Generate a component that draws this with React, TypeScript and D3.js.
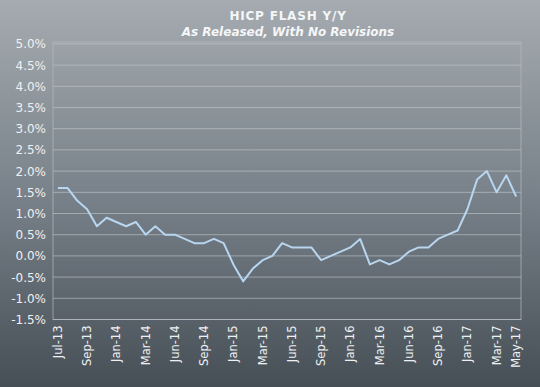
import React from "react";
import * as d3 from "d3";

const values: number[] = [
  1.6, 1.6, 1.3, 1.1, 0.7, 0.9, 0.8, 0.7, 0.8, 0.5, 0.7, 0.5, 0.5, 0.4, 0.3, 0.3,
  0.4, 0.3, -0.2, -0.6, -0.3, -0.1, 0.0, 0.3, 0.2, 0.2, 0.2, -0.1, 0.0, 0.1, 0.2, 0.4,
  -0.2, -0.1, -0.2, -0.1, 0.1, 0.2, 0.2, 0.4, 0.5, 0.6, 1.1, 1.8, 2.0, 1.5, 1.9, 1.4,
];
const tickIndex: number[] = [0, 3, 6, 9, 12, 15, 18, 21, 24, 27, 30, 33, 36, 39, 42, 45, 47];
const tickLabels: string[] = [
  "Jul-13", "Sep-13", "Jan-14", "Mar-14", "Jun-14", "Sep-14", "Jan-15", "Mar-15",
  "Jun-15", "Sep-15", "Jan-16", "Mar-16", "Jun-16", "Sep-16", "Jan-17", "Mar-17", "May-17",
];
const yTicks: number[] = [-1.5, -1, -0.5, 0, 0.5, 1, 1.5, 2, 2.5, 3, 3.5, 4, 4.5, 5];
const title = "HICP FLASH Y/Y";
const subtitle = "As Released, With No Revisions";

const W = 540;
const H = 387;
const plot = { left: 53, right: 521, top: 42, bottom: 319.5 };

export default function App() {
  const x = d3
    .scaleBand<number>()
    .domain(values.map((_, i) => i))
    .range([plot.left, plot.right])
    .padding(0);
  const y = d3.scaleLinear().domain([-1.5, 5]).range([plot.bottom, 43.9]);
  const cx = (i: number) => (x(i) as number) + x.bandwidth() / 2;
  const line = d3
    .line<number>()
    .x((_, i) => cx(i))
    .y((d) => y(d));
  const font = "'DejaVu Sans', Verdana, sans-serif";
  return (
    <svg
      width={W}
      height={H}
      style={{ position: "fixed", left: 0, top: 0, display: "block" }}
      fontFamily={font}
    >
      <defs>
        <linearGradient id="bg" x1="0" y1="0" x2="0" y2="1">
          <stop offset="0%" stopColor="#a5abb0" />
          <stop offset="50%" stopColor="#79828a" />
          <stop offset="100%" stopColor="#464e56" />
        </linearGradient>
      </defs>
      <rect x={0} y={0} width={W} height={H} fill="url(#bg)" />
      {yTicks.map((t) => (
        <line
          key={"g" + t}
          x1={plot.left}
          x2={plot.right}
          y1={y(t)}
          y2={y(t)}
          stroke="#c4c9cd"
          strokeOpacity={0.6}
          strokeWidth={1}
        />
      ))}
      <rect
        x={plot.left}
        y={plot.top}
        width={plot.right - plot.left}
        height={plot.bottom - plot.top}
        fill="none"
        stroke="#b4babf"
        strokeOpacity={0.7}
        strokeWidth={1}
      />
      {yTicks.map((t) => (
        <text
          key={"y" + t}
          x={46}
          y={y(t) + 4.5}
          textAnchor="end"
          fontSize={12}
          fill="#eef1f3"
        >
          {t.toFixed(1) + "%"}
        </text>
      ))}
      {tickIndex.map((idx, k) => (
        <text
          key={"x" + idx}
          transform={`translate(${cx(idx) + 4},${plot.bottom + 6}) rotate(-90)`}
          textAnchor="end"
          fontSize={11.5}
          fill="#eef1f3"
        >
          {tickLabels[k]}
        </text>
      ))}
      <path
        d={line(values) || ""}
        fill="none"
        stroke="#b8d6ef"
        strokeWidth={2}
        strokeLinejoin="round"
      />
      <text
        x={288}
        y={20}
        textAnchor="middle"
        fontSize={12}
        fontWeight="bold"
        letterSpacing={0.8}
        fill="#f4f6f8"
      >
        {title}
      </text>
      <text
        x={288}
        y={35.5}
        textAnchor="middle"
        fontSize={12}
        fontWeight="bold"
        fontStyle="italic"
        fill="#f4f6f8"
      >
        {subtitle}
      </text>
    </svg>
  );
}
